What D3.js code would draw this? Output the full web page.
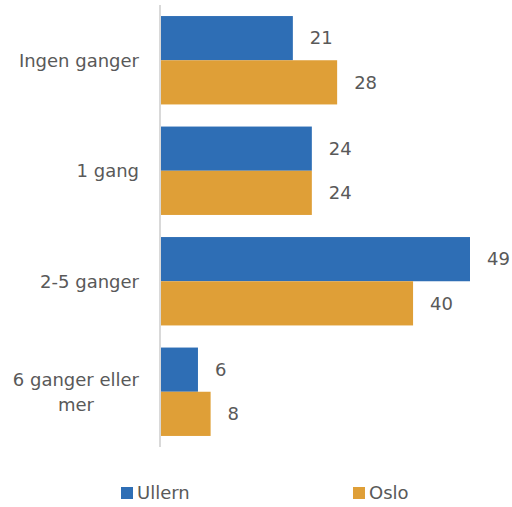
<!DOCTYPE html>
<html>
<head>
<meta charset="utf-8">
<script src="https://cdn.jsdelivr.net/npm/d3@7"></script>
<style>
  body { margin: 0; background: #fff; }
  text { font-family: "DejaVu Sans", "Open Sans", sans-serif; fill: #595959; }
</style>
</head>
<body>
<svg id="chart" width="512" height="507"></svg>
<script>
// chart data
var categories = [["Ingen ganger"], ["1 gang"], ["2-5 ganger"], ["6 ganger eller", "mer"]];
var seriesNames = ["Ullern", "Oslo"];
var ullern = [21, 24, 49, 6];
var oslo = [28, 24, 40, 8];
var colors = ["#2E6EB5", "#DF9F37"];
var fs = '18px';

var svg = d3.select('#chart');
var x = d3.scaleLinear().domain([0, 49]).range([160, 470]);
var y0 = d3.scaleBand().domain(d3.range(categories.length)).range([5, 447])
    .paddingInner(0.2).paddingOuter(0.1);
var y1 = d3.scaleBand().domain([0, 1]).range([0, y0.bandwidth()]);

var rows = categories.map(function(c, i) {
    return {i: i, label: c, vals: [ullern[i], oslo[i]]};
});

var groups = svg.selectAll('g.grp').data(rows).enter().append('g')
    .attr('transform', function(d) { return 'translate(0,' + y0(d.i) + ')'; });

groups.selectAll('rect').data(function(d) { return d.vals; }).enter().append('rect')
    .attr('x', x(0))
    .attr('y', function(d, j) { return y1(j); })
    .attr('width', function(d) { return x(d) - x(0); })
    .attr('height', y1.bandwidth())
    .attr('fill', function(d, j) { return colors[j]; });

groups.selectAll('text.val').data(function(d) { return d.vals; }).enter().append('text')
    .attr('x', function(d) { return x(d) + 17; })
    .attr('y', function(d, j) { return y1(j) + y1.bandwidth() / 2; })
    .attr('dy', '0.35em')
    .style('font-size', fs)
    .text(function(d) { return d; });

// axis line
svg.append('line')
    .attr('x1', x(0)).attr('x2', x(0))
    .attr('y1', 5).attr('y2', 447)
    .attr('stroke', '#d9d9d9').attr('stroke-width', 2);

// category labels: block right-aligned, lines centered in block
var measure = svg.append('text').style('font-size', fs);
groups.each(function(d) {
    var widths = d.label.map(function(s) { measure.text(s); return measure.node().getComputedTextLength(); });
    var cx = 139 - d3.max(widths) / 2;
    var lh = 25;
    var top = y0.bandwidth() / 2 - (d.label.length - 1) * lh / 2;
    var t = d3.select(this).append('text')
        .attr('text-anchor', 'middle')
        .style('font-size', fs);
    d.label.forEach(function(s, k) {
        t.append('tspan').attr('x', cx).attr('y', top + k * lh).attr('dy', '0.35em').text(s);
    });
});
measure.remove();

// legend
var legX = [121, 353];
var leg = svg.selectAll('g.leg').data(seriesNames).enter().append('g')
    .attr('transform', function(d, i) { return 'translate(' + legX[i] + ',487)'; });
leg.append('rect').attr('width', 12).attr('height', 12)
    .attr('fill', function(d, i) { return colors[i]; });
leg.append('text').attr('x', 16).attr('y', 6).attr('dy', '0.35em')
    .style('font-size', fs)
    .text(function(d) { return d; });
</script>
</body>
</html>
